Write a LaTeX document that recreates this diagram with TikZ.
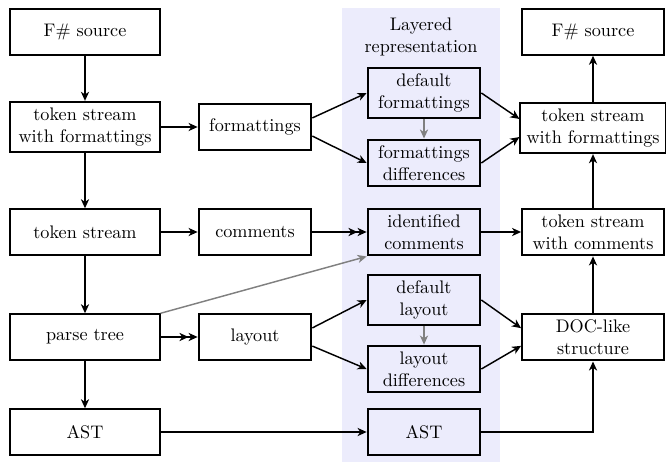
\documentclass[tikz,border=0pt]{standalone}
\usetikzlibrary{arrows.meta,positioning}
\definecolor{layer}{RGB}{236,236,252}
\definecolor{hintc}{RGB}{128,128,128}

\begin{document}
\begin{tikzpicture}[x=0.55pt, y=-0.55pt, >={Stealth[length=5pt,width=4.5pt,inset=1.5pt]},
  box/.style={draw, line width=1.1pt, align=center, minimum height=25pt},
  srcbox/.style={box, minimum width=82pt},
  pass/.style={box, minimum width=62pt},
  layerbox/.style={box, minimum width=62pt},
  outbox/.style={box, minimum width=78pt},
  flow/.style={->, line width=0.8pt},
  hint/.style={->, line width=0.8pt, hintc}]
  \useasboundingbox (0,0) rectangle (666,462);
  \fill[layer] (342,8) rectangle (500,462);
  % input side
  \node[srcbox] (src) at (85,32) {F\# source};
  \node[srcbox] (tswf) at (85,127) {token stream\\with formattings};
  \node[srcbox] (ts) at (85,232) {token stream};
  \node[srcbox] (ptree) at (85,337) {parse tree};
  \node[srcbox] (ast) at (85,432) {AST};
  \node[pass] (fmt) at (255,127) {formattings};
  \node[pass] (com) at (255,232) {comments};
  \node[pass] (lay) at (255,337) {layout};
  % layered representation
  \node[align=center] (title) at (421,37) {Layered\\representation};
  \node[layerbox] (dfmt) at (424,93) {default\\formattings};
  \node[layerbox] (fdiff) at (424,163) {formattings\\differences};
  \node[layerbox] (icom) at (424,232) {identified\\comments};
  \node[layerbox] (dlay) at (424,300) {default\\layout};
  \node[layerbox] (ldiff) at (424,369) {layout\\differences};
  \node[layerbox] (last) at (424,432) {AST};
  % output side
  \node[outbox] (osrc) at (593,32) {F\# source};
  \node[outbox] (otswf) at (593,128) {token stream\\with formattings};
  \node[outbox] (otswc) at (593,232) {token stream\\with comments};
  \node[outbox] (doc) at (593,337) {DOC-like\\structure};
  \draw[flow] (src) -- (tswf);
  \draw[flow] (tswf) -- (ts);
  \draw[flow] (ts) -- (ptree);
  \draw[flow] (ptree) -- (ast);
  \draw[flow] (tswf) -- (fmt);
  \draw[flow] (ts) -- (com);
  \draw[flow, ->>] (com) -- (icom);
  \draw[flow, ->>] (ptree) -- (lay);
  \draw[hint] (ptree.north east) -- (icom.south west);
  \draw[flow] (fmt.9) -- (dfmt.west);
  \draw[flow] (fmt.-9) -- (fdiff.west);
  \draw[flow] (lay.9) -- (dlay.west);
  \draw[flow] (lay.-9) -- (ldiff.west);
  \draw[hint] (dfmt) -- (fdiff);
  \draw[hint] (dlay) -- (ldiff);
  \draw[flow] (ast) -- (last);
  \draw[flow] (dfmt.east) -- (otswf.173);
  \draw[flow] (fdiff.east) -- (otswf.187);
  \draw[flow] (icom) -- (otswc);
  \draw[flow] (dlay.east) -- (doc.173);
  \draw[flow] (ldiff.east) -- (doc.187);
  \draw[flow] (last.east) -| (doc.south);
  \draw[flow] (doc) -- (otswc);
  \draw[flow] (otswc) -- (otswf);
  \draw[flow] (otswf) -- (osrc);
\end{tikzpicture}
\end{document}
